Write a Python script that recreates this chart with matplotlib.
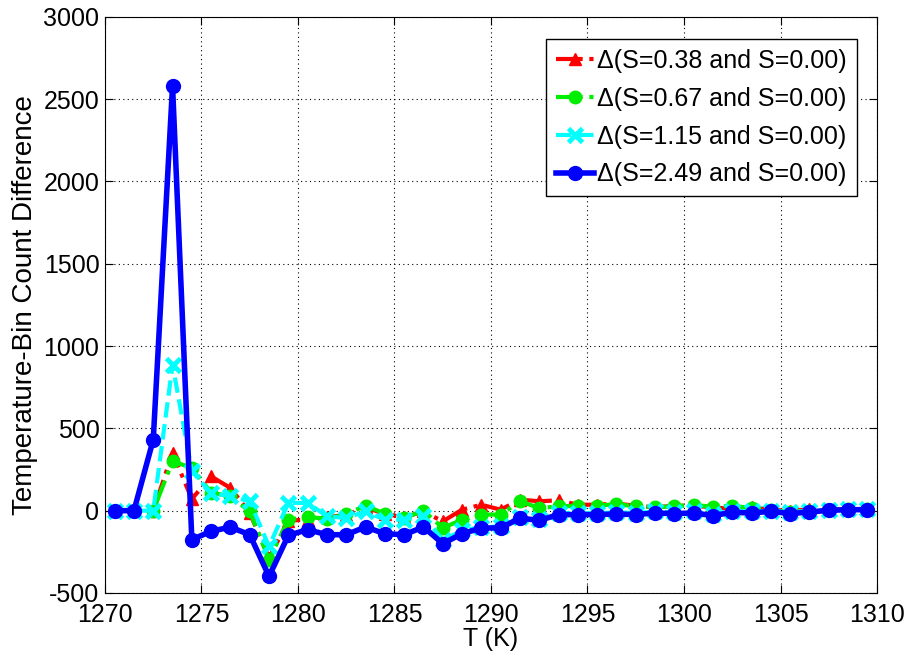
import matplotlib
matplotlib.use('Agg')
import matplotlib.pyplot as plt

plt.rcParams['font.family'] = ['Liberation Sans', 'DejaVu Sans']
plt.rcParams['axes.unicode_minus'] = False

T = [1270.5 + i for i in range(40)]

d038 = [0, 0, 0, 350, 71, 208, 138, -14, -287, -60,
        -55, -40, -25, 20, -20, -40, -5, -65, 6, 36,
        6, 67, 57, 63, 36, 36, 43, 30, 20, 30,
        30, 20, 10, 20, 5, 0, 8, 8, 10, 8]
d067 = [0, 0, 0, 300, 260, 110, 87, -5, -297, -55,
        -38, -50, -20, 30, -18, -45, 0, -105, -55, -24,
        -24, 57, 16, 26, 30, 30, 40, 26, 22, 26,
        36, 22, 30, 16, 6, -10, 0, 4, 8, 8]
d115 = [0, 0, 0, 886, 240, 107, 87, 57, -217, 47,
        47, -34, -45, -4, -55, -55, -30, -180, -120, -100,
        -95, -40, -50, -15, -15, -15, -10, -15, -5, -10,
        -5, -20, 0, -5, 0, -10, 0, 5, 8, 8]
d249 = [0, 0, 431, 2579, -176, -125, -100, -146, -399, -150,
        -115, -146, -146, -99, -140, -146, -99, -200, -140, -105,
        -105, -45, -59, -24, -24, -24, -20, -24, -14, -18,
        -14, -30, -10, -14, -4, -18, -8, 2, 6, 6]

labels = ['Δ(S=0.38 and S=0.00)', 'Δ(S=0.67 and S=0.00)',
          'Δ(S=1.15 and S=0.00)', 'Δ(S=2.49 and S=0.00)']

fig = plt.figure(figsize=(9.09, 6.58), dpi=100)
ax = fig.add_axes([0.1155, 0.0988, 0.8493, 0.8758])

ax.plot(T, d038, color='red', linestyle='-.', linewidth=3, marker='^', markersize=9, label=labels[0])
ax.plot(T, d067, color='#00ee00', linestyle='-.', linewidth=3, marker='o', markersize=9, label=labels[1])
ax.plot(T, d115, color='cyan', linestyle='--', linewidth=3, marker='x', markersize=10,
        markeredgewidth=3.5, label=labels[2])
ax.plot(T, d249, color='blue', linestyle='-', linewidth=4, marker='o', markersize=10, label=labels[3])

ax.set_xlim(1270, 1310)
ax.set_ylim(-500, 3000)
ax.set_xticks(range(1270, 1311, 5))
ax.set_yticks(range(-500, 3001, 500))
ax.grid(True, linestyle=(0, (1, 3)), color='black', linewidth=0.8)
ax.tick_params(direction='in', labelsize=18, length=6, top=True, right=True)
ax.tick_params(axis='x', pad=7)
ax.tick_params(axis='y', pad=4)
ax.set_xlabel('T (K)', fontsize=18, labelpad=0)
ax.set_ylabel('Temperature-Bin Count Difference', fontsize=20, labelpad=4)

leg = ax.legend(loc='upper right', bbox_to_anchor=(0.974, 0.961), fontsize=18,
                fancybox=False, framealpha=1, edgecolor='black',
                handlelength=1.5, handletextpad=0.15, borderpad=0.4,
                labelspacing=0.55, borderaxespad=0)
leg.get_frame().set_linewidth(1)

fig.savefig('out.png', dpi=100)
